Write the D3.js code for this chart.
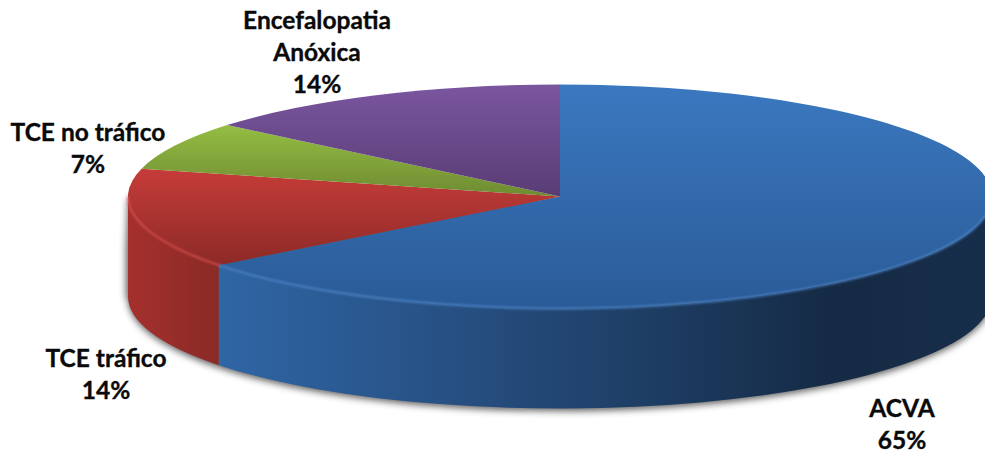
<!DOCTYPE html>
<html><head><meta charset="utf-8">
<script src="https://cdn.jsdelivr.net/npm/d3@7"></script>
<style>html,body{margin:0;padding:0;background:#fff;overflow:hidden}svg{display:block}
text{font-family:Lato,"Open Sans",sans-serif;font-weight:700;fill:#0a0a0a;stroke:#0a0a0a;stroke-width:.35;text-anchor:middle}</style>
</head><body><svg id="c" width="985" height="454"></svg>
<script>
const categories = ["ACVA","TCE tráfico","TCE no tráfico","Encefalopatia Anóxica"];
const values = [64.5,14.5,7,14];
const percentLabels = ["65%","14%","7%","14%"];
const labelLines = [["ACVA"],["TCE tráfico"],["TCE no tráfico"],["Encefalopatia","Anóxica"]];
const labelAnchors = [[902,417],[106,367],[88,141],[317,29]];
const topColors = [["#3b78c0","#2a5b97"],["#c63c39","#8c2a27"],["#95bd43","#6e8b32"],["#7a569f","#593c75"]];
const sideStops = [[["0","#2f66a5"],["0.3","#275083"],["0.6","#1c3a5e"],["0.8","#152a44"],["1","#172e4b"]],
                   [["0","#a5302d"],["1","#8a2a26"]]];
const rimColors = ["#4f8ad0","#e0504c"];

const W=985,H=454,cx=560,cy=196.5,rx=432,ry=112,depth=100;
const svg=d3.select("#c"),defs=svg.append("defs");
const arcs=d3.pie().sort(null).value(d=>d)(values);
const pt=(a,dy=0)=>[cx+rx*Math.sin(a),cy-ry*Math.cos(a)+dy];
const ellArc=(a0,a1,dy=0)=>{
  const p=pt(a1,dy),large=Math.abs(a1-a0)>Math.PI?1:0,sw=a1>a0?1:0;
  return `A${rx},${ry} 0 ${large} ${sw} ${p[0]},${p[1]}`;
};
const topPath=d=>{const s=pt(d.startAngle);
  return `M${cx},${cy}L${s[0]},${s[1]}${ellArc(d.startAngle,d.endAngle)}Z`;};
const front=d=>[Math.max(d.startAngle,Math.PI/2),Math.min(d.endAngle,3*Math.PI/2)];
const sidePath=d=>{const [a,b]=front(d);if(a>=b)return null;const s=pt(a),e=pt(b,depth);
  return `M${s[0]},${s[1]}${ellArc(a,b)}L${e[0]},${e[1]}${ellArc(b,a,depth)}Z`;};
const rimPath=d=>{const [a,b]=front(d);if(a>=b)return null;const s=pt(a);
  return `M${s[0]},${s[1]}${ellArc(a,b)}`;};

const blur=defs.append("filter").attr("id","sh").attr("x","-10%").attr("y","-20%").attr("width","120%").attr("height","140%");
blur.append("feGaussianBlur").attr("stdDeviation",3.5);
const soft=defs.append("filter").attr("id","soft").attr("x","-5%").attr("y","-5%").attr("width","110%").attr("height","110%");
soft.append("feGaussianBlur").attr("stdDeviation",0.8);

arcs.forEach((d,i)=>{
  const pts=[pt(d.startAngle),pt(d.endAngle),[cx,cy]];
  if(d.startAngle<=Math.PI&&d.endAngle>=Math.PI)pts.push(pt(Math.PI));
  if(d.startAngle<=0)pts.push(pt(0));
  const ys=pts.map(p=>p[1]);
  const g=defs.append("linearGradient").attr("id","t"+i).attr("gradientUnits","userSpaceOnUse")
    .attr("x1",0).attr("x2",0).attr("y1",d3.min(ys)).attr("y2",d3.max(ys));
  g.append("stop").attr("offset",0).attr("stop-color",topColors[i][0]);
  g.append("stop").attr("offset",1).attr("stop-color",topColors[i][1]);
});
sideStops.forEach((st,i)=>{
  const [a,b]=front(arcs[i]);
  const xs=[pt(a)[0],pt(b)[0]];
  const g=defs.append("linearGradient").attr("id","s"+i).attr("gradientUnits","userSpaceOnUse")
    .attr("x1",d3.min(xs)).attr("x2",d3.max(xs)).attr("y1",0).attr("y2",0);
  st.forEach(s=>g.append("stop").attr("offset",s[0]).attr("stop-color",s[1]));
});

svg.append("path").attr("filter","url(#sh)").attr("fill","#444").attr("opacity",.85)
  .attr("d",()=>{const a=pt(Math.PI/2,2),b=pt(3*Math.PI/2,2);
    return `M${a[0]},${a[1]}L${a[0]},${a[1]+depth}${ellArc(Math.PI/2,3*Math.PI/2,depth+3)}L${b[0]-2},${b[1]+depth}L${b[0]-2},${b[1]+50}L${b[0]},${b[1]}Z`;});

const sides=arcs.filter(d=>sidePath(d));
svg.append("g").selectAll("path").data(sides).join("path")
  .attr("d",sidePath).attr("fill",d=>`url(#s${d.index})`);

svg.append("g").selectAll("path").data(arcs).join("path")
  .attr("d",topPath).attr("fill",d=>`url(#t${d.index})`);

svg.append("g").attr("filter","url(#soft)").selectAll("path").data(sides).join("path")
  .attr("d",rimPath).attr("fill","none").attr("stroke",d=>rimColors[d.index])
  .attr("stroke-width",2).attr("opacity",.8);

const lh=32;
const lab=svg.append("g").selectAll("text").data(arcs).join("text")
  .attr("font-size",24.5)
  .attr("x",d=>labelAnchors[d.index][0]).attr("y",d=>labelAnchors[d.index][1]);
lab.selectAll("tspan").data(d=>[...labelLines[d.index],percentLabels[d.index]].map((t,j)=>({t,j,x:labelAnchors[d.index][0]})))
  .join("tspan").attr("x",d=>d.x).attr("dy",d=>d.j?lh:0).text(d=>d.t);
</script></body></html>
